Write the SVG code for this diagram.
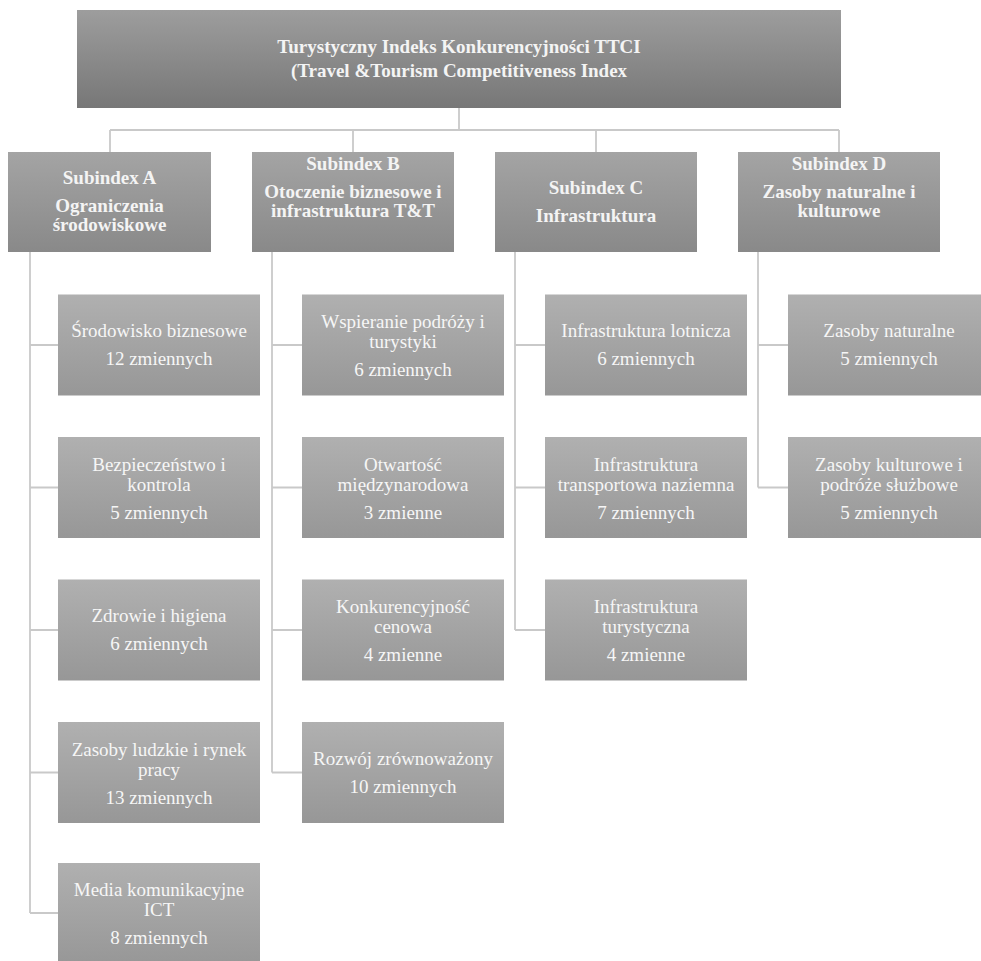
<svg xmlns="http://www.w3.org/2000/svg" width="981" height="961" viewBox="0 0 981 961">
<defs>
<linearGradient id="gTop" x1="0" y1="0" x2="0" y2="1"><stop offset="0" stop-color="#9d9d9d"/><stop offset="1" stop-color="#777777"/></linearGradient>
<linearGradient id="gSub" x1="0" y1="0" x2="0" y2="1"><stop offset="0" stop-color="#a4a4a4"/><stop offset="1" stop-color="#898989"/></linearGradient>
<linearGradient id="gChild" x1="0" y1="0" x2="0" y2="1"><stop offset="0" stop-color="#b0b0b0"/><stop offset="1" stop-color="#979797"/></linearGradient>
<style>
.top{fill:url(#gTop)}
.sub{fill:url(#gSub)}
.ch{fill:url(#gChild)}
.tb{font-family:"Liberation Serif","Times New Roman",serif;font-weight:bold;font-size:19px;fill:#f4f4f4;text-anchor:middle}
.tc{font-family:"Liberation Serif","Times New Roman",serif;font-size:19px;fill:#f6f6f6;text-anchor:middle}
.conn{fill:none;stroke:#c9c9c9;stroke-width:1.8}
</style>
</defs>
<rect width="981" height="961" fill="#ffffff"/>
<g id="connectors" class="conn">
<path d="M459 108V130M110 130H839M110 130V152M353 130V152M596 130V152M839 130V152"/>
<path d="M30 252V913M30 345H58M30 487.5H58M30 630H58M30 772.5H58M30 913H58"/>
<path d="M272 252V772.5M272 345H302M272 487.5H302M272 630H302M272 772.5H302"/>
<path d="M515 252V630M515 345H545M515 487.5H545M515 630H545"/>
<path d="M758 252V487.5M758 345H788M758 487.5H788"/>
</g>
<g id="root"><rect class="top" x="77" y="10" width="764" height="98"/>
<text class="tb" x="459" y="53">Turystyczny Indeks Konkurencyjności TTCI</text>
<text class="tb" x="459" y="77">(Travel &amp;Tourism Competitiveness Index</text></g>
<g id="subA"><rect class="sub" x="8" y="152" width="203" height="100"/>
<text class="tb" x="109.5" y="184">Subindex A</text><text class="tb" x="109.5" y="212">Ograniczenia</text><text class="tb" x="109.5" y="231">środowiskowe</text></g>
<g id="subB"><rect class="sub" x="252" y="152" width="202" height="100"/>
<text class="tb" x="353" y="170">Subindex B</text><text class="tb" x="353" y="198">Otoczenie biznesowe i</text><text class="tb" x="353" y="217">infrastruktura T&amp;T</text></g>
<g id="subC"><rect class="sub" x="495" y="152" width="202" height="100"/>
<text class="tb" x="596" y="194">Subindex C</text><text class="tb" x="596" y="222">Infrastruktura</text></g>
<g id="subD"><rect class="sub" x="738" y="152" width="202" height="100"/>
<text class="tb" x="839" y="170">Subindex D</text><text class="tb" x="839" y="198">Zasoby naturalne i</text><text class="tb" x="839" y="217">kulturowe</text></g>

<g id="a1"><rect class="ch" x="58" y="294.5" width="202" height="101"/><text class="tc" x="159" y="337">Środowisko biznesowe</text><text class="tc" x="159" y="365">12 zmiennych</text></g>
<g id="a2"><rect class="ch" x="58" y="437" width="202" height="101"/><text class="tc" x="159" y="470.5">Bezpieczeństwo i</text><text class="tc" x="159" y="490.5">kontrola</text><text class="tc" x="159" y="518.5">5 zmiennych</text></g>
<g id="a3"><rect class="ch" x="58" y="579.5" width="202" height="101"/><text class="tc" x="159" y="622">Zdrowie i higiena</text><text class="tc" x="159" y="650">6 zmiennych</text></g>
<g id="a4"><rect class="ch" x="58" y="722" width="202" height="101"/><text class="tc" x="159" y="755.5">Zasoby ludzkie i rynek</text><text class="tc" x="159" y="775.5">pracy</text><text class="tc" x="159" y="803.5">13 zmiennych</text></g>
<g id="a5"><rect class="ch" x="58" y="863" width="202" height="101"/><text class="tc" x="159" y="896">Media komunikacyjne</text><text class="tc" x="159" y="916">ICT</text><text class="tc" x="159" y="944">8 zmiennych</text></g>

<g id="b1"><rect class="ch" x="302" y="294.5" width="202" height="101"/><text class="tc" x="403" y="328">Wspieranie podróży i</text><text class="tc" x="403" y="348">turystyki</text><text class="tc" x="403" y="376">6 zmiennych</text></g>
<g id="b2"><rect class="ch" x="302" y="437" width="202" height="101"/><text class="tc" x="403" y="470.5">Otwartość</text><text class="tc" x="403" y="490.5">międzynarodowa</text><text class="tc" x="403" y="518.5">3 zmienne</text></g>
<g id="b3"><rect class="ch" x="302" y="579.5" width="202" height="101"/><text class="tc" x="403" y="613">Konkurencyjność</text><text class="tc" x="403" y="633">cenowa</text><text class="tc" x="403" y="661">4 zmienne</text></g>
<g id="b4"><rect class="ch" x="302" y="722" width="202" height="101"/><text class="tc" x="403" y="764.5">Rozwój zrównoważony</text><text class="tc" x="403" y="792.5">10 zmiennych</text></g>

<g id="c1"><rect class="ch" x="545" y="294.5" width="202" height="101"/><text class="tc" x="646" y="337">Infrastruktura lotnicza</text><text class="tc" x="646" y="365">6 zmiennych</text></g>
<g id="c2"><rect class="ch" x="545" y="437" width="202" height="101"/><text class="tc" x="646" y="470.5">Infrastruktura</text><text class="tc" x="646" y="490.5">transportowa naziemna</text><text class="tc" x="646" y="518.5">7 zmiennych</text></g>
<g id="c3"><rect class="ch" x="545" y="579.5" width="202" height="101"/><text class="tc" x="646" y="613">Infrastruktura</text><text class="tc" x="646" y="633">turystyczna</text><text class="tc" x="646" y="661">4 zmienne</text></g>

<g id="d1"><rect class="ch" x="788" y="294.5" width="202" height="101"/><text class="tc" x="889" y="337">Zasoby naturalne</text><text class="tc" x="889" y="365">5 zmiennych</text></g>
<g id="d2"><rect class="ch" x="788" y="437" width="202" height="101"/><text class="tc" x="889" y="470.5">Zasoby kulturowe i</text><text class="tc" x="889" y="490.5">podróże służbowe</text><text class="tc" x="889" y="518.5">5 zmiennych</text></g>
</svg>
